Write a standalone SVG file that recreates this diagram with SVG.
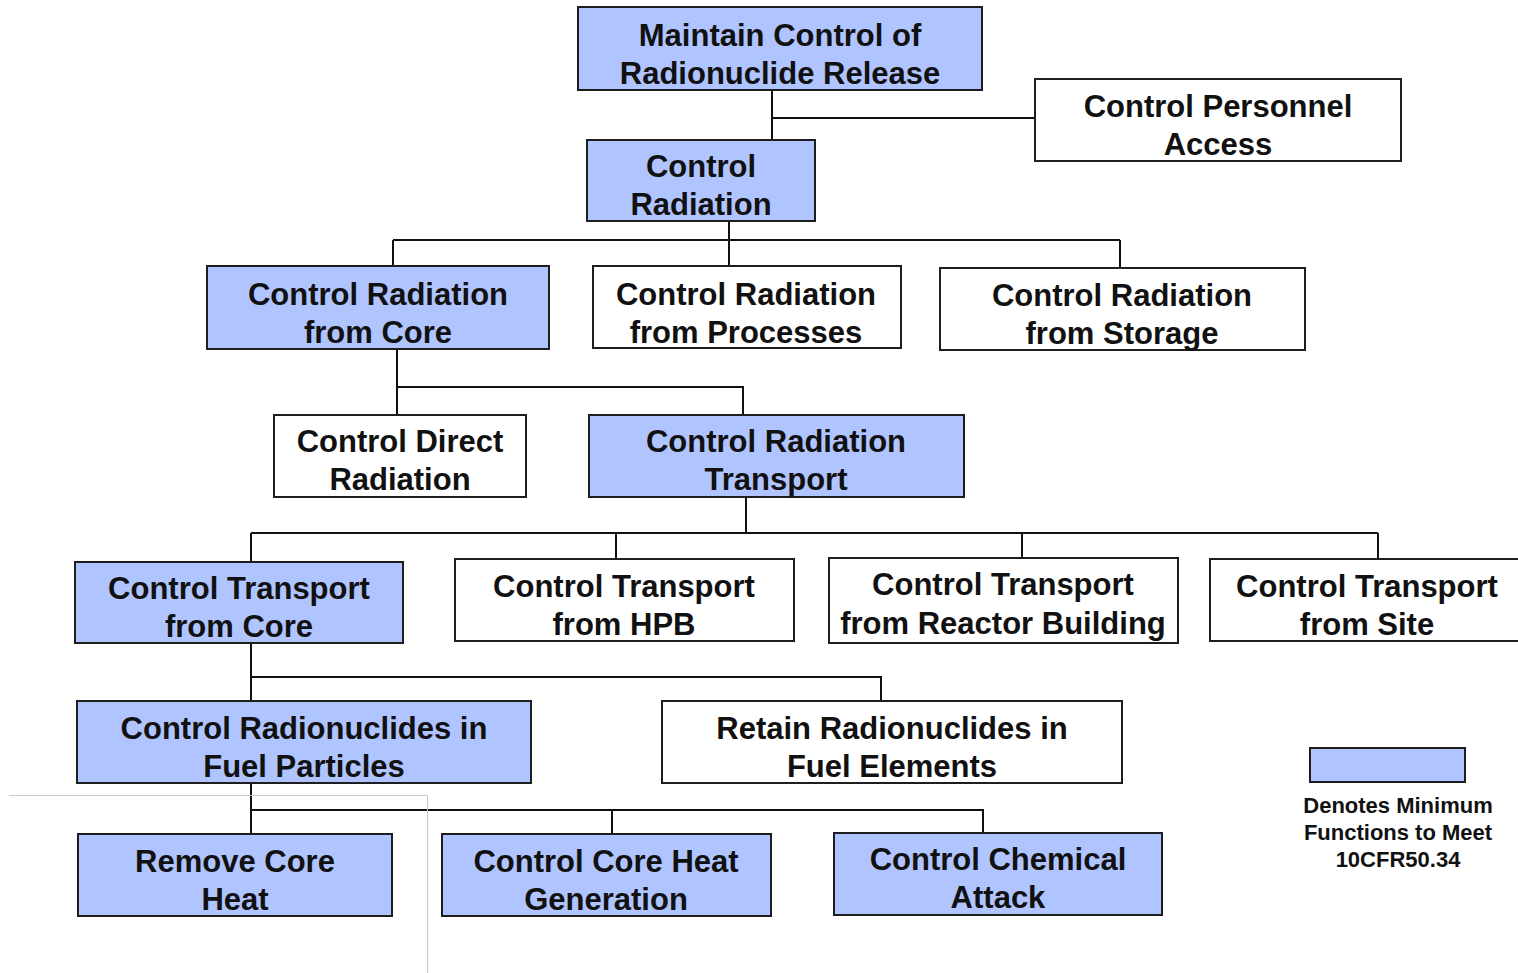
<svg xmlns="http://www.w3.org/2000/svg" width="1518" height="973" viewBox="0 0 1518 973">
<style>
.b{fill:#b0c4ff;stroke:#1e1e1e;stroke-width:2}
.w{fill:#ffffff;stroke:#1e1e1e;stroke-width:2}
.t{font-family:"Liberation Sans",Arial,sans-serif;font-weight:bold;font-size:31px;fill:#111;text-anchor:middle}
.s{font-family:"Liberation Sans",Arial,sans-serif;font-weight:bold;font-size:22px;fill:#111;text-anchor:middle}
.c{fill:none;stroke:#111;stroke-width:2}
.g{fill:none;stroke:#c8c8c8;stroke-width:1}
</style>
<rect width="1518" height="973" fill="#ffffff"/>
<g id="connectors">
<path class="c" d="M772 90V140M772 118H1035"/>
<path class="c" d="M729 221V266M393 240H1120M393 240V266M1120 240V268"/>
<path class="c" d="M397 349V415M397 387H743V415"/>
<path class="c" d="M746 497V533M251 533H1378M251 533V562M616 533V559M1022 533V558M1378 533V559"/>
<path class="c" d="M251 643V701M251 677H881V701"/>
<path class="c" d="M251 783V834M251 810H983V833M612 810V834"/>
</g>
<g id="frame-lines">
<path class="g" d="M9 795.5H427.5V973"/>
</g>
<g id="n-maintain"><rect class="b" x="578" y="7" width="404" height="83"/><text class="t" x="780" y="46">Maintain Control of</text><text class="t" x="780" y="84">Radionuclide Release</text></g>
<g id="n-personnel"><rect class="w" x="1035" y="79" width="366" height="82"/><text class="t" x="1218" y="117">Control Personnel</text><text class="t" x="1218" y="155">Access</text></g>
<g id="n-radiation"><rect class="b" x="587" y="140" width="228" height="81"/><text class="t" x="701" y="177">Control</text><text class="t" x="701" y="215">Radiation</text></g>
<g id="n-rad-core"><rect class="b" x="207" y="266" width="342" height="83"/><text class="t" x="378" y="305">Control Radiation</text><text class="t" x="378" y="343">from Core</text></g>
<g id="n-rad-processes"><rect class="w" x="593" y="266" width="308" height="82"/><text class="t" x="746" y="305">Control Radiation</text><text class="t" x="746" y="343">from Processes</text></g>
<g id="n-rad-storage"><rect class="w" x="940" y="268" width="365" height="82"/><text class="t" x="1122" y="306">Control Radiation</text><text class="t" x="1122" y="344">from Storage</text></g>
<g id="n-direct"><rect class="w" x="274" y="415" width="252" height="82"/><text class="t" x="400" y="452">Control Direct</text><text class="t" x="400" y="490">Radiation</text></g>
<g id="n-transport"><rect class="b" x="589" y="415" width="375" height="82"/><text class="t" x="776" y="452">Control Radiation</text><text class="t" x="776" y="490">Transport</text></g>
<g id="n-tr-core"><rect class="b" x="75" y="562" width="328" height="81"/><text class="t" x="239" y="599">Control Transport</text><text class="t" x="239" y="637">from Core</text></g>
<g id="n-tr-hpb"><rect class="w" x="455" y="559" width="339" height="82"/><text class="t" x="624" y="597">Control Transport</text><text class="t" x="624" y="635">from HPB</text></g>
<g id="n-tr-rb"><rect class="w" x="829" y="558" width="349" height="85"/><text class="t" x="1003" y="595">Control Transport</text><text class="t" x="1003" y="634">from Reactor Building</text></g>
<g id="n-tr-site"><rect class="w" x="1210" y="559" width="316" height="82"/><text class="t" x="1367" y="597">Control Transport</text><text class="t" x="1367" y="635">from Site</text></g>
<g id="n-fuel-particles"><rect class="b" x="77" y="701" width="454" height="82"/><text class="t" x="304" y="739">Control Radionuclides in</text><text class="t" x="304" y="777">Fuel Particles</text></g>
<g id="n-fuel-elements"><rect class="w" x="662" y="701" width="460" height="82"/><text class="t" x="892" y="739">Retain Radionuclides in</text><text class="t" x="892" y="777">Fuel Elements</text></g>
<g id="n-remove-heat"><rect class="b" x="78" y="834" width="314" height="82"/><text class="t" x="235" y="872">Remove Core</text><text class="t" x="235" y="910">Heat</text></g>
<g id="n-heat-gen"><rect class="b" x="442" y="834" width="329" height="82"/><text class="t" x="606" y="872">Control Core Heat</text><text class="t" x="606" y="910">Generation</text></g>
<g id="n-chemical"><rect class="b" x="834" y="833" width="328" height="82"/><text class="t" x="998" y="870">Control Chemical</text><text class="t" x="998" y="908">Attack</text></g>
<g id="legend"><rect class="b" x="1310" y="748" width="155" height="34"/><text class="s" x="1398" y="813">Denotes Minimum</text><text class="s" x="1398" y="840">Functions to Meet</text><text class="s" x="1398" y="867">10CFR50.34</text></g>
</svg>
